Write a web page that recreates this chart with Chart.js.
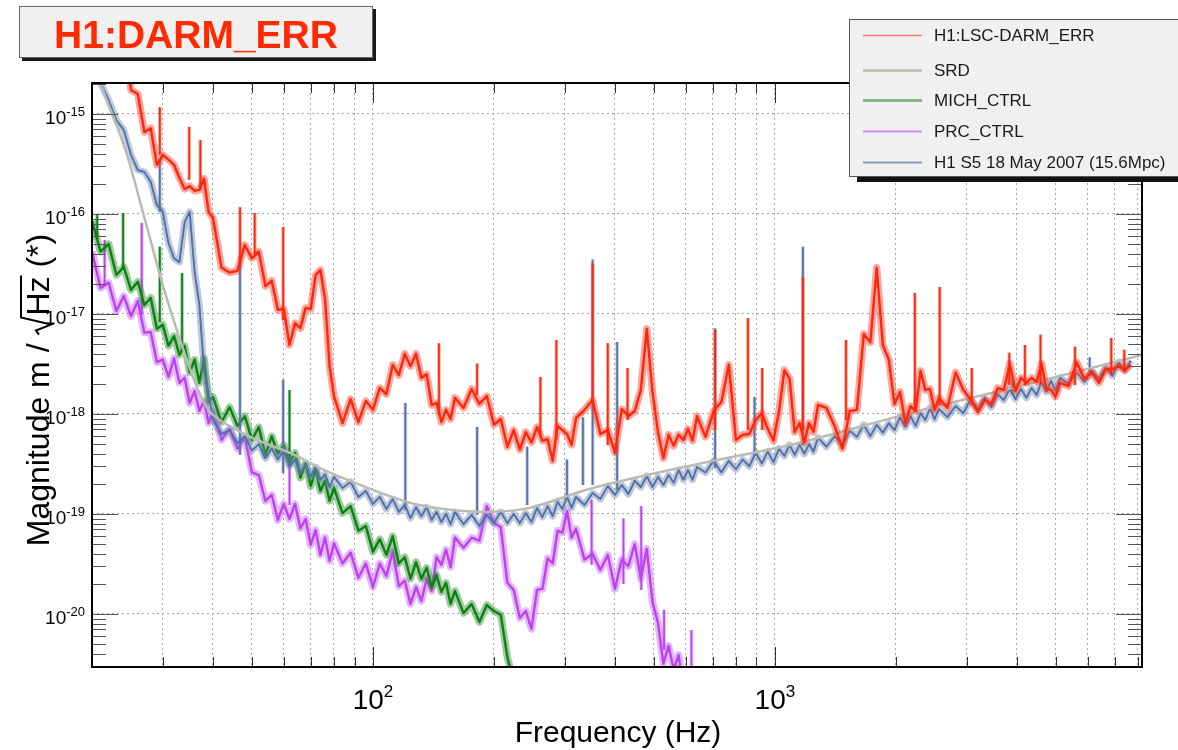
<!DOCTYPE html>
<html>
<head>
<meta charset="utf-8">
<script src="https://cdn.jsdelivr.net/npm/chart.js@4.4.1/dist/chart.umd.min.js"></script>
<style>
  html, body { margin: 0; padding: 0; background: #fff; }
  #wrap { width: 1178px; height: 750px; }
</style>
</head>
<body>
<div id="wrap"><canvas id="psd" width="1178" height="750"></canvas></div>
<script>
// Frequency grid shared by the measured spectra (Hz)
const freqHz = [
  20, 21, 22, 23, 24, 25, 26, 27, 28, 29, 30, 31, 32, 33, 34, 35, 36, 37, 38, 39, 40,
  42, 44, 46, 48, 50, 52, 54, 56, 58, 60, 62, 64, 66, 68, 70, 72, 74, 76, 78, 80,
  84, 88, 92, 96, 100, 104, 108, 112, 116, 120, 124, 128, 132, 136, 140, 144, 148, 152, 156, 160,
  168, 176, 184, 192, 200, 208, 216, 224, 232, 240, 248, 256, 264, 272, 280, 288, 296, 304, 312, 320,
  336, 352, 368, 384, 400, 416, 432, 448, 464, 480, 496, 512, 528, 544, 560, 576, 592, 608, 624, 640,
  672, 704, 736, 768, 800, 832, 864, 896, 928, 960, 992, 1024, 1056, 1088, 1120, 1152, 1184, 1216, 1248, 1280,
  1344, 1408, 1472, 1536, 1600, 1664, 1728, 1792, 1856, 1920, 1984, 2048, 2112, 2176, 2240, 2304, 2368, 2432, 2496, 2560,
  2688, 2816, 2944, 3072, 3200, 3328, 3456, 3584, 3712, 3840, 3968, 4096, 4224, 4352, 4480, 4608, 4736, 4864, 4992, 5120,
  5376, 5632, 5888, 6144, 6400, 6656, 6912, 7168, 7424, 7680, 7936, 8192
];

// H1:LSC-DARM_ERR (m/rtHz), alternating upper/lower edge of the noise band
const darmErr = [
  null, null, null, null, 5.4e-15, 1.74e-15, 1.58e-15, 6.6e-16, 7.2e-16, 3.1e-16, 3.9e-16, 3.5e-16, 3.1e-16, 2.3e-16, 1.78e-16, 1.9e-16, 1.7e-16, 1.74e-16, 2.25e-16, 1.05e-16, 9.1e-17,
  2.9e-17, 2.6e-17, 2.7e-17, 4.9e-17, 3.6e-17, 4.2e-17, 1.9e-17, 2.15e-17, 1.1e-17, 1.12e-17, 4.9e-18, 8.1e-18, 7.2e-18, 1.15e-17, 1.12e-17, 2.45e-17, 2.75e-17, 1.41e-17, 3.0e-18, 1.51e-18,
  8.1e-19, 1.41e-18, 8.3e-19, 1.35e-18, 1.1e-18, 1.82e-18, 1.58e-18, 3.1e-18, 2.45e-18, 4.0e-18, 3.0e-18, 4.0e-18, 2.3e-18, 2.5e-18, 1.23e-18, 1.29e-18, 8.3e-19, 1.1e-18, 8.9e-19, 1.45e-18,
  1.15e-18, 1.78e-18, 1.26e-18, 1.51e-18, 7.8e-19, 8.9e-19, 4.7e-19, 6.9e-19, 4.4e-19, 6.6e-19, 5.2e-19, 7.4e-19, 5.4e-19, 5.6e-19, 3.4e-19, 7.6e-19, 6.9e-19, 6.3e-19, 4.9e-19, 9.1e-19,
  1.1e-18, 1.38e-18, 6.3e-19, 6.9e-19, 4.1e-19, 1.12e-18, 9.5e-19, 1.07e-18, 1.74e-18, 7.1e-18, 1.66e-18, 6.5e-19, 3.6e-19, 6.2e-19, 4.8e-19, 6.2e-19, 5.5e-19, 7.1e-19, 5.4e-19, 9.5e-19,
  5.9e-19, 1.07e-18, 1.32e-18, 3.1e-18, 5.5e-19, 6.2e-19, 6.3e-19, 8.7e-19, 1.02e-18, 7.1e-19, 5.4e-19, 1.07e-18, 2.75e-18, 2.25e-18, 6.6e-19, 8.1e-19, 5.2e-19, 8.1e-19, 6.6e-19, 1.23e-18,
  1.15e-18, 7.6e-19, 4.5e-19, 1.07e-18, 1.1e-18, 6.3e-18, 5.2e-18, 2.9e-17, 4.9e-18, 3.5e-18, 1.26e-18, 1.66e-18, 8.1e-19, 1.2e-18, 1.07e-18, 2.7e-18, 1.74e-18, 1.78e-18, 1.1e-18, 1.45e-18,
  1.15e-18, 2.6e-18, 1.74e-18, 1.38e-18, 1.05e-18, 1.38e-18, 1.26e-18, 1.82e-18, 1.74e-18, 3.2e-18, 1.7e-18, 2.3e-18, 2.05e-18, 2.3e-18, 2.1e-18, 3.2e-18, 1.78e-18, 1.74e-18, 1.48e-18, 2.05e-18,
  1.9e-18, 3.3e-18, 2.25e-18, 2.6e-18, 2.05e-18, 2.8e-18, 2.8e-18, 3.0e-18, 2.75e-18, 3.1e-18, null, null
];

// H1 S5 18 May 2007 reference spectrum
const s5Ref = [
  3.5e-15, 2.04e-15, 1.38e-15, 8.7e-16, 6.9e-16, 3.9e-16, 2.75e-16, 2.63e-16, 2.09e-16, 1.23e-16, 1.05e-16, 5.1e-17, 3.6e-17, 3.3e-17, 8.3e-17, 1.05e-16, 2.63e-17, 1.23e-17, 2.75e-18, 1.55e-18, 8.7e-19,
  6.3e-19, 6.9e-19, 5.1e-19, 6.0e-19, 4.3e-19, 5.0e-19, 3.6e-19, 4.5e-19, 3.5e-19, 4.3e-19, 3.0e-19, 3.5e-19, 2.6e-19, 3.1e-19, 2.35e-19, 2.95e-19, 2.2e-19, 2.5e-19, 1.86e-19, 2.35e-19,
  1.82e-19, 2.1e-19, 1.48e-19, 1.7e-19, 1.26e-19, 1.48e-19, 1.12e-19, 1.41e-19, 1.05e-19, 1.23e-19, 9.1e-20, 1.17e-19, 9.5e-20, 1.17e-19, 8.7e-20, 1.05e-19, 8.3e-20, 1.0e-19, 7.9e-20, 1.05e-19,
  7.9e-20, 9.8e-20, 7.6e-20, 9.8e-20, 8.1e-20, 1.05e-19, 8.1e-20, 1.0e-19, 8.1e-20, 1.02e-19, 8.3e-20, 1.15e-19, 9.3e-20, 1.2e-19, 9.5e-20, 1.32e-19, 1.12e-19, 1.48e-19, 1.15e-19, 1.48e-19,
  1.23e-19, 1.62e-19, 1.41e-19, 1.9e-19, 1.55e-19, 1.95e-19, 1.58e-19, 2.15e-19, 1.86e-19, 2.4e-19, 1.86e-19, 2.35e-19, 1.95e-19, 2.45e-19, 2.05e-19, 2.75e-19, 2.2e-19, 2.75e-19, 2.2e-19, 2.95e-19,
  2.6e-19, 3.4e-19, 2.6e-19, 3.4e-19, 2.8e-19, 3.5e-19, 3.0e-19, 4.1e-19, 3.2e-19, 4.2e-19, 3.3e-19, 4.5e-19, 3.8e-19, 4.9e-19, 3.9e-19, 4.9e-19, 4.0e-19, 5.0e-19, 4.2e-19, 5.8e-19,
  4.7e-19, 6.0e-19, 4.9e-19, 6.8e-19, 5.9e-19, 7.8e-19, 6.0e-19, 7.8e-19, 6.5e-19, 8.1e-19, 6.9e-19, 9.3e-19, 7.4e-19, 9.5e-19, 7.6e-19, 1.02e-18, 8.7e-19, 1.15e-18, 8.9e-19, 1.12e-18,
  9.3e-19, 1.2e-18, 1.02e-18, 1.41e-18, 1.12e-18, 1.45e-18, 1.17e-18, 1.58e-18, 1.38e-18, 1.78e-18, 1.41e-18, 1.78e-18, 1.45e-18, 1.82e-18, 1.55e-18, 2.1e-18, 1.66e-18, 2.15e-18, 1.7e-18, 2.3e-18,
  2.0e-18, 2.6e-18, 2.1e-18, 2.7e-18, 2.25e-18, 2.9e-18, 2.4e-18, 3.3e-18, 2.7e-18, 3.4e-18, null, null
];

// MICH_CTRL
const michCtrl = [
  8.5e-17, 4.2e-17, 5.0e-17, 2.45e-17, 2.95e-17, 1.74e-17, 2.1e-17, 1.23e-17, 1.45e-17, 7.1e-18, 7.8e-18, 4.8e-18, 6.0e-18, 3.9e-18, 4.8e-18, 2.6e-18, 3.5e-18, 2.05e-18, 3.6e-18, 1.32e-18, 1.48e-18,
  8.3e-19, 1.17e-18, 7.6e-19, 9.5e-19, 5.5e-19, 7.4e-19, 3.9e-19, 6.0e-19, 4.0e-19, 4.9e-19, 3.2e-19, 4.1e-19, 2.3e-19, 3.2e-19, 1.9e-19, 2.75e-19, 1.7e-19, 2.15e-19, 1.35e-19, 1.82e-19,
  1.02e-19, 1.2e-19, 6.8e-20, 7.6e-20, 4.2e-20, 5.6e-20, 3.9e-20, 6.0e-20, 3.2e-20, 3.7e-20, 2.25e-20, 3.3e-20, 2.25e-20, 2.9e-20, 1.86e-20, 2.45e-20, 1.66e-20, 2.05e-20, 1.26e-20, 1.7e-20,
  1.02e-20, 1.26e-20, 8.3e-21, 1.23e-20, 1.07e-20, 9.8e-21, 3.7e-21, 2.05e-21
];

// PRC_CTRL
const prcCtrl = [
  4.2e-17, 1.82e-17, 2.05e-17, 1.07e-17, 1.51e-17, 9.5e-18, 1.35e-17, 6.5e-18, 6.6e-18, 3.3e-18, 3.5e-18, 2.35e-18, 3.6e-18, 2.05e-18, 2.3e-18, 1.29e-18, 1.7e-18, 1.07e-18, 1.35e-18, 8.1e-19, 1.05e-18,
  5.5e-19, 7.1e-19, 4.5e-19, 5.8e-19, 2.6e-19, 2.45e-19, 1.35e-19, 1.55e-19, 8.7e-20, 1.26e-19, 8.9e-20, 1.26e-19, 7.2e-20, 8.9e-20, 4.9e-20, 6.9e-20, 3.9e-20, 5.8e-20, 3.4e-20, 5.1e-20,
  3.2e-20, 4.1e-20, 2.3e-20, 3.2e-20, 1.86e-20, 3.2e-20, 2.4e-20, 4.2e-20, 1.9e-20, 2.15e-20, 1.26e-20, 1.86e-20, 1.35e-20, 2.25e-20, 1.7e-20, 3.7e-20, 3.1e-20, 4.4e-20, 2.95e-20, 5.8e-20,
  4.6e-20, 5.8e-20, 5.4e-20, 1.2e-19, 8.1e-20, 7.4e-20, 2.05e-20, 1.74e-20, 9.1e-21, 1.07e-20, 7.1e-21, 1.74e-20, 1.78e-20, 3.6e-20, 3.2e-20, 6.8e-20, 6.5e-20, 1.07e-19, 5.8e-20, 7.1e-20,
  3.5e-20, 4.0e-20, 2.75e-20, 3.9e-20, 1.78e-20, 3.5e-20, 3.0e-20, 5.0e-20, 2.25e-20, 4.5e-20, 1.32e-20, 8.1e-21, 3.2e-21, 4.8e-21, 2.8e-21, 3.9e-21, 1.74e-21
];

// narrow lines: [frequency, floor, peak]
const darmLines = [
  [29.5, 3.9e-16, 1.17e-15], [34.9, 2.2e-16, 7.4e-16], [37.2, 1.74e-16, 5.5e-16], [46.7, 3.1e-17, 1.17e-16],
  [50.8, 3.9e-17, 1.02e-16], [59.8, 8.7e-18, 7.4e-17], [146, 9.8e-19, 5.1e-18], [181.6, 1.55e-18, 3.2e-18],
  [261, 6.2e-19, 2.34e-18], [286, 5.5e-19, 5.5e-18], [352, 1.38e-18, 3.2e-17], [384, 4.9e-19, 5.1e-18],
  [430, 8.7e-19, 2.88e-18], [710, 6.9e-19, 6.9e-18], [857, 6.9e-19, 9.1e-18], [930, 6.9e-19, 2.88e-18],
  [1174, 6.9e-19, 2.34e-17], [1503, 8.7e-19, 5.5e-18], [2230, 1.1e-18, 1.62e-17], [2571, 1.23e-18, 1.86e-17],
  [3090, 1.23e-18, 2.88e-18], [3830, 1.95e-18, 4.1e-18], [4190, 1.95e-18, 4.9e-18], [4580, 1.95e-18, 6.2e-18],
  [5580, 1.95e-18, 4.7e-18], [6870, 2.45e-18, 5.75e-18], [7400, 2.63e-18, 4.4e-18]
];
const s5Lines = [
  [29.5, 1.05e-16, 3.5e-16], [46.7, 3.9e-19, 3.7e-17], [59.8, 2.57e-19, 2.2e-18], [120.4, 1.1e-19, 1.29e-18],
  [181.6, 9.8e-20, 7.4e-19], [242, 1.23e-19, 4.7e-19], [304, 1.55e-19, 3.5e-19], [333, 1.95e-19, 9.3e-19],
  [352, 1.95e-19, 3.5e-17], [405, 1.74e-19, 5.25e-18], [710, 2.88e-19, 7.2e-18], [890, 3.8e-19, 1.48e-18],
  [1174, 4.9e-19, 4.7e-17], [3900, 1.55e-18, 2.29e-18], [6070, 2.45e-18, 3.7e-18]
];
const michLines = [
  [20.6, 5.5e-17, 9.8e-17], [23.9, 2.88e-17, 1.02e-16], [29.5, 8.3e-18, 4.7e-17], [33.5, 4.4e-18, 2.57e-17], [62, 3.6e-19, 1.74e-18]
];
const prcLines = [
  [21.5, 2.0e-17, 5.5e-17], [26.6, 9.8e-18, 8.1e-17], [62, 1.23e-19, 4.4e-19], [350, 3.1e-20, 1.38e-19],
  [420, 2.0e-20, 9.0e-20], [465, 1.74e-20, 1.2e-19], [530, 4.4e-21, 1.1e-20], [620, 2.0e-21, 6.9e-21]
];

// SRD design curve
const srdHz = [21, 24.2, 27.1, 30.3, 34.1, 37.2, 40, 49.5, 62, 78, 100, 124, 156, 196, 245, 352, 652, 1138, 2230, 4370, 8192];
const srd = [2.0e-15, 4.4e-16, 8.7e-17, 1.7e-17, 3.9e-18, 1.55e-18, 9.8e-19, 5.9e-19, 4.1e-19, 2.6e-19, 1.74e-19, 1.29e-19, 1.1e-19, 1.05e-19, 1.15e-19, 1.82e-19, 3.2e-19, 5.1e-19, 1.05e-18, 2.04e-18, 3.9e-18];

// axes
const xGridHz = [30, 40, 50, 60, 70, 80, 90, 100, 200, 300, 400, 500, 600, 700, 800, 900, 1000, 2000, 3000, 4000, 5000, 6000, 7000, 8000];
const xMajor = [100, 1000];
const xMajorExp = ['2', '3'];
const yDecades = [1e-20, 1e-19, 1e-18, 1e-17, 1e-16, 1e-15];
const yDecadeExp = ['-20', '-19', '-18', '-17', '-16', '-15'];
const yMinorSteps = [2, 3, 4, 5, 6, 7, 8, 9];

const legendItems = [
  { label: 'H1:LSC-DARM_ERR', color: '#ff7a6e', width: 1.5 },
  { label: 'SRD', color: '#bdbdb3', width: 2.5 },
  { label: 'MICH_CTRL', color: '#86b486', width: 3 },
  { label: 'PRC_CTRL', color: '#d88af2', width: 2 },
  { label: 'H1 S5 18 May 2007 (15.6Mpc)', color: '#8a9ab8', width: 2 }
];

function toPoints(vals) {
  const pts = [];
  vals.forEach((v, i) => { if (v !== null) pts.push({ x: freqHz[i], y: v }); });
  return pts;
}
function linePoints(list) {
  const pts = [];
  list.forEach(([f, lo, hi]) => { pts.push({ x: f, y: lo }, { x: f, y: hi }, { x: f, y: null }); });
  return pts;
}

// each spectrum: a soft wide band underneath, the trace on top, and its narrow lines
function series(vals, lines, color, soft, width, order) {
  return [
    { data: toPoints(vals), borderColor: color, borderWidth: width, order: order },
    { data: linePoints(lines), borderColor: color, borderWidth: 1.7, order: order },
    { data: linePoints(lines), borderColor: soft, borderWidth: 3.5, order: order + 1 },
    { data: toPoints(vals), borderColor: soft, borderWidth: width + 5, order: order + 1 }
  ];
}

const datasets = [
  ...series(darmErr, darmLines, 'rgb(255,38,10)', 'rgba(255,60,40,0.45)', 2.4, 0),
  { data: srdHz.map((f, i) => ({ x: f, y: srd[i] })), borderColor: 'rgb(186,188,178)', borderWidth: 2.5, tension: 0.35, order: 2 },
  ...series(s5Ref, s5Lines, 'rgb(82,112,165)', 'rgba(110,135,180,0.45)', 1.9, 3),
  ...series(michCtrl, michLines, 'rgb(12,128,18)', 'rgba(40,140,45,0.45)', 2.4, 5),
  ...series(prcCtrl, prcLines, 'rgb(188,66,240)', 'rgba(195,95,245,0.45)', 2.4, 7)
];
datasets.forEach(d => { d.pointRadius = 0; d.clip = 0; d.spanGaps = false; });

function drawPow(ctx, x, y, exp, big, small, rise, align) {
  ctx.font = big + 'px "Liberation Sans", Arial, sans-serif';
  const w1 = ctx.measureText('10').width;
  ctx.font = small + 'px "Liberation Sans", Arial, sans-serif';
  const w2 = ctx.measureText(exp).width;
  const start = align === 'center' ? x - (w1 + w2) / 2 : x - (w1 + w2);
  ctx.font = big + 'px "Liberation Sans", Arial, sans-serif';
  ctx.fillText('10', start, y);
  ctx.font = small + 'px "Liberation Sans", Arial, sans-serif';
  ctx.fillText(exp, start + w1, y - rise);
}

const rootStyle = {
  id: 'rootStyle',
  afterDatasetsDraw(chart) {
    const { ctx, chartArea: a, scales: { x, y } } = chart;
    ctx.save();
    // tick marks, pointing inward on all four sides
    ctx.strokeStyle = '#333';
    ctx.lineWidth = 1;
    ctx.beginPath();
    xGridHz.forEach(v => {
      const px = Math.round(x.getPixelForValue(v)) + 0.5;
      const len = xMajor.includes(v) ? 20 : 10;
      ctx.moveTo(px, a.bottom); ctx.lineTo(px, a.bottom - len);
      ctx.moveTo(px, a.top); ctx.lineTo(px, a.top + len);
    });
    ctx.stroke();
    ctx.strokeStyle = '#555';
    ctx.beginPath();
    [1e-21, ...yDecades].forEach(d => {
      [1, ...yMinorSteps].forEach(m => {
        const v = m * d;
        if (v < y.min || v > y.max) return;
        const py = Math.round(y.getPixelForValue(v)) + 0.5;
        const len = m === 1 ? 26 : 14;
        ctx.moveTo(a.left, py); ctx.lineTo(a.left + len, py);
        ctx.moveTo(a.right, py); ctx.lineTo(a.right - len, py);
      });
    });
    ctx.stroke();
    // frame
    ctx.strokeStyle = '#000';
    ctx.lineWidth = 2;
    ctx.strokeRect(a.left, a.top, a.right - a.left, a.bottom - a.top);

    // tick labels
    ctx.fillStyle = '#000';
    ctx.textBaseline = 'alphabetic';
    xMajor.forEach((v, i) => {
      drawPow(ctx, x.getPixelForValue(v), 709, xMajorExp[i], 28, 17, 12, 'center');
    });
    yDecades.forEach((v, i) => {
      drawPow(ctx, 85, y.getPixelForValue(v) + 10, yDecadeExp[i], 19, 13, 8, 'right');
    });

    // axis titles
    ctx.font = '30px "Liberation Sans", Arial, sans-serif';
    ctx.textAlign = 'center';
    ctx.fillText('Frequency (Hz)', (a.left + a.right) / 2 + 1, 742);

    ctx.font = '32px "Liberation Sans", Arial, sans-serif';
    ctx.textAlign = 'left';
    ctx.translate(49, 390);
    ctx.rotate(-Math.PI / 2);
    const p1 = 'Magnitude m / ', p2 = 'Hz', p3 = ' (*)';
    const w1 = ctx.measureText(p1).width, w2 = ctx.measureText(p2).width, w3 = ctx.measureText(p3).width;
    const rad = 19;
    let sx = -(w1 + rad + w2 + w3) / 2;
    ctx.fillText(p1, sx, 0);
    sx += w1;
    ctx.lineWidth = 2;
    ctx.beginPath();
    ctx.moveTo(sx, -10); ctx.lineTo(sx + 4, -13); ctx.lineTo(sx + 10, 2);
    ctx.lineTo(sx + 17, -28); ctx.lineTo(sx + rad + w2 + 1, -28);
    ctx.stroke();
    ctx.fillText(p2, sx + rad, 0);
    ctx.fillText(p3, sx + rad + w2, 0);
    ctx.restore();
  },
  afterDraw(chart) {
    const { ctx } = chart;
    ctx.save();
    // title box
    ctx.fillStyle = '#1a1a1a';
    ctx.fillRect(22, 58, 354, 3);
    ctx.fillRect(373, 9, 3, 52);
    ctx.fillStyle = '#f0f0f0';
    ctx.fillRect(19, 6, 354, 52);
    ctx.strokeStyle = '#666';
    ctx.lineWidth = 1;
    ctx.strokeRect(19.5, 6.5, 353, 51);
    ctx.fillStyle = '#ff2a00';
    ctx.font = 'bold 39px "Liberation Sans", Arial, sans-serif';
    ctx.textAlign = 'center';
    ctx.textBaseline = 'alphabetic';
    ctx.fillText('H1:DARM_ERR', 196, 48);

    // legend box
    ctx.fillStyle = '#111';
    ctx.fillRect(857, 177, 330, 5);
    ctx.fillStyle = '#f0f0f0';
    ctx.fillRect(849, 19, 340, 158);
    ctx.strokeStyle = '#555';
    ctx.strokeRect(849.5, 19.5, 340, 157);
    const rows = [35, 70, 100, 131, 162];
    ctx.textAlign = 'left';
    ctx.textBaseline = 'middle';
    ctx.font = '17px "Liberation Sans", Arial, sans-serif';
    legendItems.forEach((it, i) => {
      ctx.strokeStyle = it.color;
      ctx.lineWidth = it.width;
      ctx.beginPath();
      ctx.moveTo(863, rows[i] + 0.5); ctx.lineTo(922, rows[i] + 0.5);
      ctx.stroke();
      ctx.fillStyle = '#1a1a1a';
      ctx.fillText(it.label, 934, rows[i] + 1);
    });
    ctx.restore();
  }
};

Chart.defaults.font.family = "'Liberation Sans', Arial, sans-serif";

new Chart(document.getElementById('psd'), {
  type: 'line',
  data: { datasets },
  options: {
    responsive: false,
    animation: false,
    events: [],
    layout: { padding: { top: 83, right: 36, bottom: 0, left: 0 } },
    plugins: { legend: { display: false }, tooltip: { enabled: false } },
    elements: { line: { tension: 0, borderJoinStyle: 'round', borderCapStyle: 'butt' } },
    scales: {
      x: {
        type: 'logarithmic', min: 20, max: 8192, bounds: 'data',
        grid: { color: '#a8a8a8', lineWidth: 1, drawTicks: false },
        border: { display: false, dash: [2, 3] },
        ticks: { display: false },
        afterBuildTicks: s => { s.ticks = xGridHz.map(v => ({ value: v })); },
        afterFit: s => { s.height = 83; }
      },
      y: {
        type: 'logarithmic', min: 2.95e-21, max: 2.04e-15, bounds: 'data',
        grid: { color: '#a8a8a8', lineWidth: 1, drawTicks: false },
        border: { display: false, dash: [2, 3] },
        ticks: { display: false },
        afterBuildTicks: s => { s.ticks = yDecades.map(v => ({ value: v })); },
        afterFit: s => { s.width = 92; }
      }
    }
  },
  plugins: [rootStyle]
});
</script>
</body>
</html>
